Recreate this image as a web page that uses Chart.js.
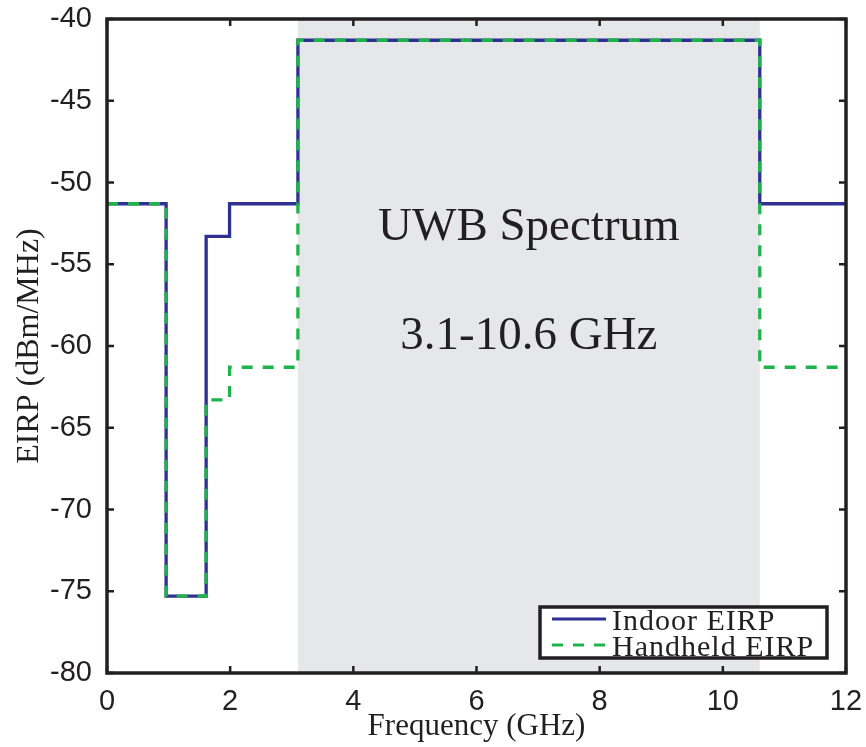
<!DOCTYPE html>
<html>
<head>
<meta charset="utf-8">
<script src="https://cdn.jsdelivr.net/npm/chart.js@4.4.0/dist/chart.umd.min.js"></script>
<style>
  body { margin: 0; background: #fff; }
</style>
</head>
<body>
<canvas id="eirpChart" width="866" height="747"></canvas>
<script>
// FCC UWB emission masks, EIRP limit (dBm/MHz) per frequency band (GHz)
const bandEdges = [0, 0.96, 1.61, 1.99, 3.1, 10.6, 12];
const indoorLimits = [-51.3, -75.3, -53.3, -51.3, -41.3, -51.3];
const handheldLimits = [-51.3, -75.3, -63.3, -61.3, -41.3, -61.3];
const uwbBand = [3.1, 10.6];
const uwbText = ['UWB Spectrum', '3.1-10.6 GHz'];
const xTicks = [0, 2, 4, 6, 8, 10, 12];
const yTicks = [-80, -75, -70, -65, -60, -55, -50, -45, -40];

const ink = '#231f20';

// each level holds from its edge up to the next one
function stepPoints(edges, levels) {
    let pts = [];
    for (let i = 0; i < levels.length; i++) {
        pts.push({ x: edges[i], y: levels[i] });
    }
    pts.push({ x: edges[edges.length - 1], y: levels[levels.length - 1] });
    return pts;
}

const bandShade = {
    id: 'bandShade',
    beforeDatasetsDraw(chart) {
        const { ctx, chartArea, scales } = chart;
        const x0 = scales.x.getPixelForValue(uwbBand[0]);
        const x1 = scales.x.getPixelForValue(uwbBand[1]);
        ctx.save();
        ctx.fillStyle = '#e6e7e8';
        ctx.fillRect(x0, chartArea.top, x1 - x0, chartArea.bottom - chartArea.top);
        ctx.fillStyle = ink;
        ctx.font = '47px "Liberation Serif"';
        ctx.textAlign = 'center';
        ctx.textBaseline = 'alphabetic';
        const cx = (x0 + x1) / 2;
        ctx.fillText(uwbText[0], cx, scales.y.getPixelForValue(-53.5));
        ctx.fillText(uwbText[1], cx, scales.y.getPixelForValue(-60.2));
        ctx.restore();
    }
};

// box round the plot with inward ticks on all four sides
const axisBox = {
    id: 'axisBox',
    afterDatasetsDraw(chart) {
        const { ctx, chartArea: a, scales } = chart;
        const len = 7;
        ctx.save();
        ctx.strokeStyle = ink;
        ctx.lineWidth = 2.5;
        ctx.beginPath();
        xTicks.forEach(v => {
            const px = scales.x.getPixelForValue(v);
            ctx.moveTo(px, a.bottom); ctx.lineTo(px, a.bottom - len);
            ctx.moveTo(px, a.top); ctx.lineTo(px, a.top + len);
        });
        yTicks.forEach(v => {
            const py = scales.y.getPixelForValue(v);
            ctx.moveTo(a.left, py); ctx.lineTo(a.left + len, py);
            ctx.moveTo(a.right, py); ctx.lineTo(a.right - len, py);
        });
        ctx.stroke();
        ctx.lineWidth = 3.5;
        ctx.strokeRect(a.left, a.top, a.right - a.left, a.bottom - a.top);
        ctx.restore();
    }
};

const boxLegend = {
    id: 'boxLegend',
    afterDraw(chart) {
        const { ctx, chartArea: a } = chart;
        const w = 287, h = 51;
        const right = a.right - 19, bottom = a.bottom - 15;
        const left = right - w, top = bottom - h;
        ctx.save();
        ctx.fillStyle = '#fff';
        ctx.fillRect(left, top, w, h);
        ctx.strokeStyle = ink;
        ctx.lineWidth = 3.5;
        ctx.strokeRect(left, top, w, h);
        ctx.font = '30px "Liberation Serif"';
        ctx.letterSpacing = '1px';
        ctx.textBaseline = 'alphabetic';
        chart.data.datasets.forEach((ds, i) => {
            const y = top + 12 + i * 26;
            ctx.strokeStyle = ds.borderColor;
            ctx.lineWidth = 3;
            ctx.setLineDash(ds.borderDash || []);
            ctx.beginPath();
            ctx.moveTo(left + 12, y);
            ctx.lineTo(left + 66, y);
            ctx.stroke();
            ctx.setLineDash([]);
            ctx.fillStyle = ink;
            ctx.fillText(ds.label, left + 72, y + 11);
        });
        ctx.restore();
    }
};

const ctx = document.getElementById('eirpChart');

new Chart(ctx, {
    type: 'line',
    data: {
        datasets: [{
            label: 'Indoor EIRP',
            data: stepPoints(bandEdges, indoorLimits),
            borderColor: '#2e3192',
            borderWidth: 3.3,
            stepped: true,
            pointRadius: 0,
            order: 1
        },
        {
            label: 'Handheld EIRP',
            data: stepPoints(bandEdges, handheldLimits),
            borderColor: '#1fb34b',
            borderWidth: 3.3,
            borderDash: [11, 10],
            stepped: true,
            pointRadius: 0,
            order: 0
        }]
    },
    options: {
        responsive: false,
        animation: false,
        layout: { padding: { top: 19, right: 20, left: 0, bottom: 0 } },
        plugins: {
            legend: { display: false },
            tooltip: { enabled: false }
        },
        scales: {
            x: {
                type: 'linear',
                min: 0,
                max: 12,
                afterBuildTicks: scale => { scale.ticks = xTicks.map(v => ({ value: v })); },
                afterFit: scale => {
                    scale.height = 74;
                    scale.paddingLeft = 0;
                    scale.paddingRight = 0;
                },
                grid: { display: false, drawTicks: false },
                border: { display: false },
                ticks: {
                    color: ink,
                    padding: 12,
                    maxRotation: 0,
                    font: { family: '"Liberation Sans"', size: 29 }
                },
                title: {
                    display: true,
                    text: 'Frequency (GHz)',
                    color: ink,
                    padding: { top: 0, bottom: 2 },
                    font: { family: '"Liberation Serif"', size: 31 }
                }
            },
            y: {
                min: -80,
                max: -40,
                afterBuildTicks: scale => { scale.ticks = yTicks.map(v => ({ value: v })); },
                afterFit: scale => {
                    scale.width = 107;
                    scale.paddingTop = 0;
                    scale.paddingBottom = 0;
                },
                grid: { display: false, drawTicks: false },
                border: { display: false },
                ticks: {
                    color: ink,
                    padding: 15,
                    font: { family: '"Liberation Sans"', size: 29 }
                },
                title: {
                    display: true,
                    text: 'EIRP (dBm/MHz)',
                    color: ink,
                    padding: { top: 10, bottom: 0 },
                    font: { family: '"Liberation Serif"', size: 32 }
                }
            }
        }
    },
    plugins: [bandShade, axisBox, boxLegend]
});
</script>
</body>
</html>
